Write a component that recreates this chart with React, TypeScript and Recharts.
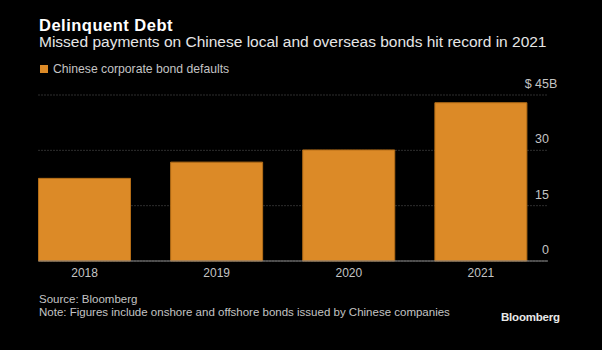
import React from "react";
import { Bar, BarChart, CartesianGrid, XAxis, YAxis } from "recharts";

const years = ["2018", "2019", "2020", "2021"];
const defaultsBn = [22.4, 26.8, 30.1, 42.9];
const yTicks = [0, 15, 30, 45];

const ORANGE = "#dc8a27";
const LABEL = "#c4c4c4";
const FONT = "'Liberation Sans', Arial, sans-serif";

const data = years.map((year, i) => ({ year, value: defaultsBn[i] }));

const YTick = (props: any) => {
  const { y, payload } = props;
  const x = 549;
  const base = { fill: LABEL, fontSize: 12.5, fontFamily: FONT };
  if (payload.value === 45) {
    return (
      <g>
        <text x={x} y={y - 7} textAnchor="end" {...base}>
          $ 45
        </text>
        <text x={x} y={y - 7} textAnchor="start" {...base}>
          B
        </text>
      </g>
    );
  }
  return (
    <text x={x} y={y - 7} textAnchor="end" {...base}>
      {payload.value}
    </text>
  );
};

const XTick = (props: any) => {
  const { x, y, payload } = props;
  return (
    <text x={x} y={y + 15.5} textAnchor="middle" fill={LABEL} fontSize={12} fontFamily={FONT}>
      {payload.value}
    </text>
  );
};

export default function App() {
  return (
    <div style={{ position: "absolute", left: 0, top: 0, width: 602, height: 350, background: "#000" }}>
      <BarChart
        width={602}
        height={350}
        data={data}
        margin={{ top: 95, right: 24, bottom: 59, left: 38.5 }}
        barSize={92}
      >
        <CartesianGrid vertical={false} stroke="#5c5c5c" strokeDasharray="1 2" />
        <XAxis
          dataKey="year"
          height={30}
          padding={{ left: -20, right: 1 }}
          axisLine={{ stroke: "#8a8a8a" }}
          tickLine={false}
          tickSize={0}
          tickMargin={0}
          tick={<XTick />}
        />
        <YAxis
          orientation="right"
          width={30}
          domain={[0, 45]}
          ticks={yTicks}
          axisLine={false}
          tickLine={false}
          tickSize={0}
          tickMargin={0}
          tick={<YTick />}
        />
        <Bar dataKey="value" fill={ORANGE} stroke="#b46d17" strokeWidth={1} isAnimationActive={false} />
      </BarChart>
      <svg
        width={602}
        height={350}
        style={{ position: "absolute", left: 0, top: 0, pointerEvents: "none" }}
        fontFamily={FONT}
      >
        <text x={39} y={30.5} fill="#fff" fontSize={16.5} fontWeight="bold" letterSpacing={0.5}>
          Delinquent Debt
        </text>
        <text x={39} y={47} fill="#e6e6e6" fontSize={15.5}>
          Missed payments on Chinese local and overseas bonds hit record in 2021
        </text>
        <rect x={40} y={65} width={8} height={8} fill={ORANGE} />
        <text x={53} y={73.3} fill={LABEL} fontSize={12.2}>
          Chinese corporate bond defaults
        </text>
        <text x={39} y={303.3} fill={LABEL} fontSize={11.5}>
          Source: Bloomberg
        </text>
        <text x={39} y={315.7} fill={LABEL} fontSize={11.5}>
          Note: Figures include onshore and offshore bonds issued by Chinese companies
        </text>
        <text x={501} y={321} fill="#e8e8e8" fontSize={11.5} fontWeight="bold" letterSpacing={-0.2}>
          Bloomberg
        </text>
      </svg>
    </div>
  );
}
